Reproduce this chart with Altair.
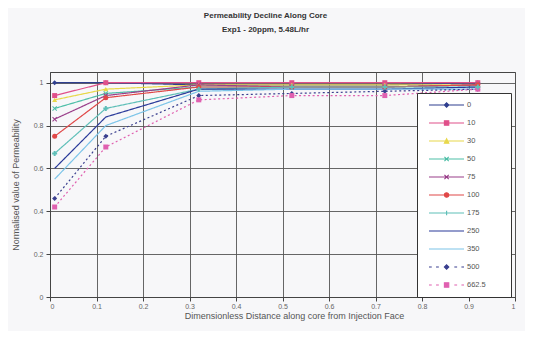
import altair as alt
import pandas as pd

# ---- data ----
x_pos = [0.01, 0.12, 0.32, 0.52, 0.72, 0.92]
series_names = ["0", "10", "30", "50", "75", "100", "175", "250", "350", "500", "662.5"]
v_0 = [1.00, 1.00, 0.99, 0.99, 0.99, 1.00]
v_10 = [0.94, 1.00, 1.00, 1.00, 1.00, 1.00]
v_30 = [0.92, 0.97, 0.99, 0.99, 0.99, 0.99]
v_50 = [0.88, 0.95, 0.98, 0.98, 0.98, 0.99]
v_75 = [0.83, 0.94, 0.99, 0.98, 0.98, 0.99]
v_100 = [0.75, 0.93, 0.98, 0.98, 0.98, 0.99]
v_175 = [0.67, 0.88, 0.97, 0.98, 0.98, 0.98]
v_250 = [0.60, 0.84, 0.97, 0.97, 0.97, 0.98]
v_350 = [0.55, 0.80, 0.96, 0.97, 0.97, 0.97]
v_500 = [0.46, 0.75, 0.94, 0.95, 0.96, 0.97]
v_662 = [0.42, 0.70, 0.92, 0.94, 0.94, 0.97]
x_ticks = [0, 0.1, 0.2, 0.3, 0.4, 0.5, 0.6, 0.7, 0.8, 0.9, 1]
y_ticks = [0, 0.2, 0.4, 0.6, 0.8, 1]

all_values = [v_0, v_10, v_30, v_50, v_75, v_100, v_175, v_250, v_350, v_500, v_662]
rows = []
for name, vals in zip(series_names, all_values):
    for xv, yv in zip(x_pos, vals):
        rows.append({"series": name, "x": xv, "value": yv})
df = pd.DataFrame(rows)

# ---- styles ----
colors = ["#2f3f8f", "#e0508a", "#e8d84a", "#4fbfa8", "#9a3f8a", "#e04848",
          "#5fbfb8", "#2a3a9a", "#7cc4e8", "#3a3f8f", "#e060b0"]
dashes = [[1, 0]] * 9 + [[2, 2.5], [2, 2.5]]
X_SHAPE = "M-1,-0.7L-0.7,-1L0,-0.3L0.7,-1L1,-0.7L0.3,0L1,0.7L0.7,1L0,0.3L-0.7,1L-1,0.7L-0.3,0Z"
marker_groups = [
    ("diamond", ["0", "500"]),
    ("square", ["10", "662.5"]),
    ("triangle-up", ["30"]),
    (X_SHAPE, ["50", "75"]),
    ("circle", ["100"]),
    ("cross", ["175"]),
]

# legend symbols: line + marker as one path (unit = half symbol width)
c = 0.19
m = 0.1
def mk(kind):
    if kind == "diamond":
        return f"M{c},{-m}L{c+m},0L{c},{m}L{c-m},0Z"
    if kind == "square":
        return f"M{c-m},{-m}L{c+m},{-m}L{c+m},{m}L{c-m},{m}Z"
    if kind == "tri":
        return f"M{c},{-m}L{c+m},{m}L{c-m},{m}Z"
    if kind == "x":
        return f"M{c-m},{-m}L{c+m},{m}M{c-m},{m}L{c+m},{-m}"
    if kind == "circle":
        return f"M{c-m},0A{m},{m} 0 1,0 {c+m},0A{m},{m} 0 1,0 {c-m},0Z"
    if kind == "plus":
        return f"M{c-m},0L{c+m},0M{c},{-m}L{c},{m}"
    return ""

solid = "M-0.63,0L1,0"
dotted = "M-0.63,0L-0.5,0M-0.3,0L-0.17,0M0.55,0L0.68,0M0.88,0L1,0"
legend_shapes = [solid + mk("diamond"), solid + mk("square"), solid + mk("tri"),
                 solid + mk("x"), solid + mk("x"), solid + mk("circle"),
                 solid + mk("plus"), solid, solid,
                 dotted + mk("diamond"), dotted + mk("square")]

# the drawing scales list the domain in reverse order, so that their (hidden)
# legends are not merged with the visible legend of the legend-only layer
color_scale = alt.Scale(domain=series_names[::-1], range=colors[::-1])
dash_scale = alt.Scale(domain=series_names[::-1], range=dashes[::-1])

legend_def = alt.Legend(
    orient="none", legendX=367, legendY=21, title="\u00a0", titleOrient="right",
    titlePadding=22, fillColor="white", strokeColor="#333", padding=3,
    symbolSize=1849, clipHeight=18, rowPadding=0, labelFontSize=7.5,
    labelColor="#555", labelOffset=2, symbolStrokeWidth=1.2, labelFont="Liberation Sans",
    symbolOpacity=1,
)

x_enc = alt.X("x:Q", scale=alt.Scale(domain=[0, 1], nice=False),
              axis=alt.Axis(values=x_ticks, format="~g", titleX=244,
                            title="Dimensionless Distance along core from Injection Face"))
y_enc = alt.Y("value:Q", scale=alt.Scale(domain=[0, 1.05], nice=False),
              axis=alt.Axis(values=y_ticks, format="~g",
                            title="Normalised value of Permeability"))

lines = alt.Chart(df).mark_line(strokeWidth=1.2).encode(
    x=x_enc, y=y_enc,
    color=alt.Color("series:N", scale=color_scale, legend=None),
    strokeDash=alt.StrokeDash("series:N", scale=dash_scale, legend=None),
    order="x:Q",
)

point_layers = []
for shp, members in marker_groups:
    point_layers.append(
        alt.Chart(df).transform_filter(
            alt.FieldOneOfPredicate(field="series", oneOf=members)
        ).mark_point(filled=True, size=25, opacity=1, shape=shp).encode(
            x=x_enc, y=y_enc,
            color=alt.Color("series:N", scale=color_scale, legend=None),
        )
    )

legend_layer = alt.Chart(df).transform_filter("false").mark_point(filled=True).encode(
    x=x_enc, y=y_enc,
    fill=alt.Fill("series:N", scale=alt.Scale(domain=series_names, range=colors), legend=legend_def),
    stroke=alt.Stroke("series:N", scale=alt.Scale(domain=series_names, range=colors), legend=legend_def),
    shape=alt.Shape("series:N", scale=alt.Scale(domain=series_names, range=legend_shapes), legend=legend_def),
)

chart = alt.layer(lines, *point_layers, legend_layer).properties(
    width=465, height=225,
    title=alt.TitleParams(
        text=["Permeability Decline Along Core", "Exp1 - 20ppm, 5.48L/hr"],
        fontSize=8, fontWeight="bold", color="#333", font="Liberation Sans",
        anchor="middle", dx=-17, offset=38, lineHeight=14,
    ),
    autosize=alt.AutoSizeParams(type="none"),
    padding={"left": 42, "top": 64, "right": 10, "bottom": 34},
    background="#f7f7f9",
).configure_view(
    stroke="#444", strokeWidth=1
).configure_axis(
    grid=True, gridColor="#555", gridWidth=0.9, gridOpacity=1,
    domainColor="#444", tickColor="#444", tickSize=4,
    labelFont="Liberation Sans", labelFontSize=7, labelColor="#666",
    titleFont="Liberation Sans", titleFontSize=9, titleFontWeight="normal", titleColor="#555",
).configure_axisY(
    labelPadding=3, titlePadding=13
).configure_axisX(
    labelPadding=1, titlePadding=2
)

chart.save("out.html", embed_options={"renderer": "svg", "actions": False})
